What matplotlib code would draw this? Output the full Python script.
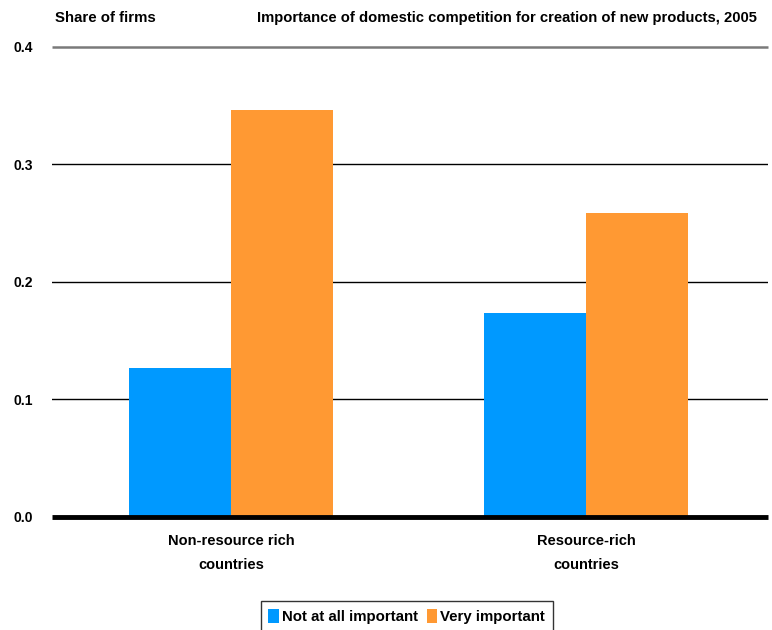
import matplotlib
matplotlib.use("Agg")
import matplotlib.pyplot as plt
import numpy as np

categories = ["Non-resource rich\ncountries", "Resource-rich\ncountries"]
series_names = ["Not at all important", "Very important"]
not_important = [0.127, 0.174]
very_important = [0.346, 0.259]
y_ticks = [0.0, 0.1, 0.2, 0.3, 0.4]

colors = ["#0099FF", "#FF9933"]
font = ["Liberation Sans Narrow", "Liberation Sans", "DejaVu Sans"]
plt.rcParams["font.family"] = font
plt.rcParams["font.weight"] = "bold"

fig = plt.figure(figsize=(7.72, 6.3), dpi=100)
ax = fig.add_axes([0.0674, 0.1794, 0.9276, 0.746])

x = np.arange(len(categories))
w = 0.287
ax.bar(x - w / 2, not_important, width=w, color=colors[0], label=series_names[0], zorder=3)
ax.bar(x + w / 2, very_important, width=w, color=colors[1], label=series_names[1], zorder=3)

ax.set_xlim(-0.504, 1.513)
ax.set_ylim(0, 0.4)
ax.set_yticks(y_ticks)
ax.set_yticklabels([f"{v:.1f}" for v in y_ticks], fontsize=10, fontweight="bold")
for v in y_ticks[1:-1]:
    ax.axhline(v, color="black", lw=1.0, zorder=1)
ax.axhline(0.4, color="#7a7a7a", lw=1.8, zorder=1, clip_on=False, solid_capstyle="butt")
ax.axhline(0.0, color="black", lw=3.5, zorder=4, clip_on=False, solid_capstyle="butt")

for s in ax.spines.values():
    s.set_visible(False)
ax.tick_params(axis="y", length=0, pad=14)
ax.tick_params(axis="x", length=0, pad=12)
ax.set_xticks(x)
ax.set_xticklabels(categories, fontsize=10.5, fontweight="bold", linespacing=1.9)

fig.text(0.071, 0.972, "Share of firms", fontsize=10.8, fontweight="bold", ha="left", va="center")
fig.text(0.981, 0.972, "Importance of domestic competition for creation of new products, 2005",
         fontsize=10.6, fontweight="bold", ha="right", va="center")

leg = fig.legend(loc="lower center", bbox_to_anchor=(0.527, -0.014), ncol=2, frameon=True,
                 fancybox=False, edgecolor="black", fontsize=10.8, handlelength=0.7,
                 handleheight=1.1, handletextpad=0.2, columnspacing=0.6, borderpad=0.5)
leg.get_frame().set_linewidth(1.0)
for t in leg.get_texts():
    t.set_fontweight("bold")

fig.savefig("out.png", dpi=100)
